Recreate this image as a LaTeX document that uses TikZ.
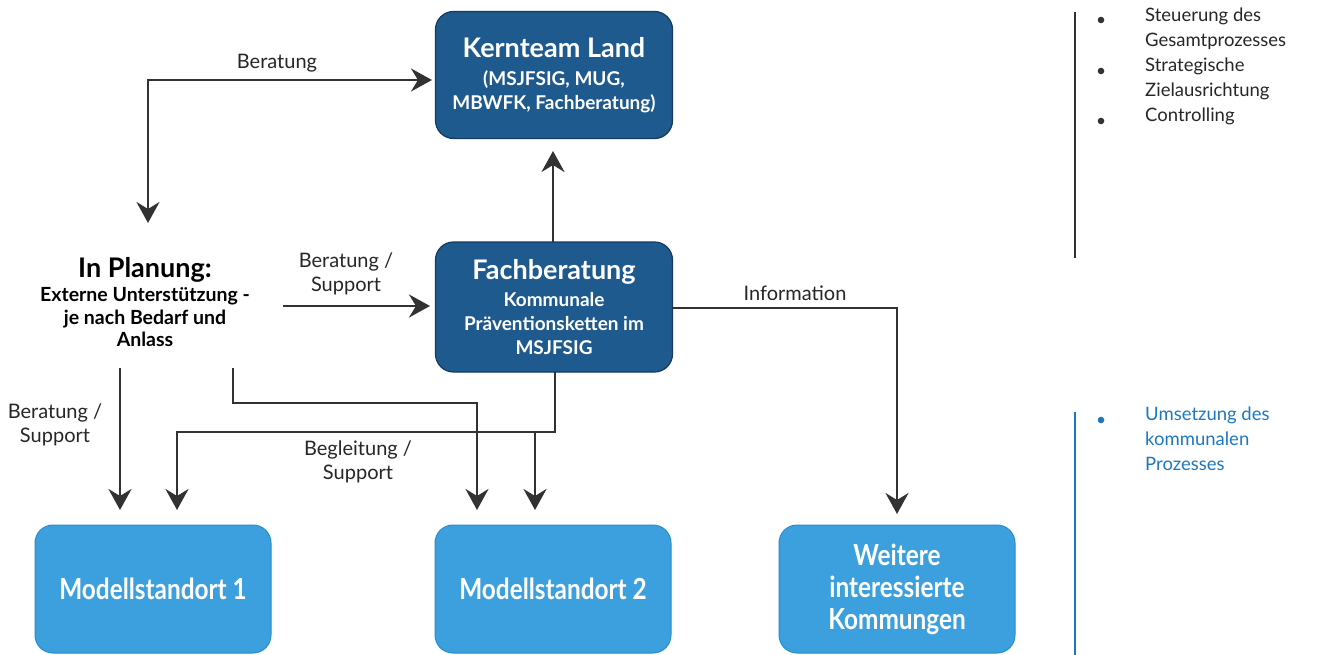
\documentclass[tikz,border=0pt]{standalone}
\usepackage{fontspec}
\setmainfont{Lato}
\newfontfamily\condfont[FakeStretch=0.84]{Lato}
\usetikzlibrary{arrows.meta}
\definecolor{darkbox}{RGB}{31,90,142}
\definecolor{darkedge}{RGB}{20,58,95}
\definecolor{lightbox}{RGB}{60,160,222}
\definecolor{lightedge}{RGB}{40,140,205}
\definecolor{linecol}{RGB}{50,50,50}
\definecolor{bluetext}{RGB}{28,120,192}
\tikzset{
  darknode/.style={draw=darkedge, line width=1.2pt, fill=darkbox, rounded corners=18pt,
    minimum width=237pt, minimum height=127pt, text=white, align=center, inner sep=0pt,
    font=\fontsize{19}{24}\selectfont\bfseries},
  lightnode/.style={draw=lightedge, line width=1pt, fill=lightbox, rounded corners=18pt,
    minimum width=236pt, minimum height=128pt, text=white, align=center, inner sep=0pt,
    font=\condfont\fontsize{29}{32}\selectfont\bfseries},
  conn/.style={draw=linecol, line width=2.8pt},
  arr/.style={conn, -{Stealth[length=21pt,width=23pt,inset=7pt]}},
  darr/.style={conn, {Stealth[length=21pt,width=23pt,inset=7pt]}-{Stealth[length=21pt,width=23pt,inset=7pt]}},
  lab/.style={font=\fontsize{20}{24}\selectfont, text=black!85, align=center, inner sep=0pt},
  sidetext/.style={font=\fontsize{18.5}{25}\selectfont, anchor=north west, align=left, inner sep=0pt},
}
\begin{document}
\begin{tikzpicture}[x=1pt,y=-1pt]
\useasboundingbox (0,0) rectangle (1321,655);
% boxes
\node[darknode] (kern) at (554,75) {{\fontsize{27}{24}\selectfont Kernteam Land}\\[4pt]
  (MSJFSIG, MUG,\\MBWFK, Fachberatung)};
\node[darknode, minimum height=130pt] (fach) at (554,307) {{\fontsize{27}{24}\selectfont Fachberatung}\\[3pt]
  Kommunale\\Präventionsketten im\\MSJFSIG};
\node[align=center, inner sep=2pt, fill=white, font=\fontsize{19.5}{22.5}\selectfont\bfseries] (plan) at (145,302) {{\fontsize{27}{24}\selectfont In Planung:}\\[2pt]
  Externe Unterstützung -\\je nach Bedarf und\\Anlass};
\node[lightnode] (ms1) at (153,589) {Modellstandort 1};
\node[lightnode] (ms2) at (553,589) {Modellstandort 2};
\node[lightnode] (weit) at (897,589) {Weitere\\interessierte\\Kommungen};
% coordinates
\coordinate (b1) at (148,80);
\coordinate (b2) at (148,223);
\coordinate (kw) at (432,80);
\coordinate (ps) at (283,306);
\coordinate (pe) at (430,306);
\coordinate (fu) at (553,242);
\coordinate (ku) at (553,151);
\coordinate (i1) at (672,308);
\coordinate (i2) at (897,308);
\coordinate (i3) at (897,514);
\coordinate (l1) at (120,368);
\coordinate (l2) at (120,510);
\coordinate (p1) at (233,368);
\coordinate (p2) at (233,403);
\coordinate (p3) at (477,403);
\coordinate (p4) at (477,510);
\coordinate (f1) at (555,372);
\coordinate (f2) at (555,432);
\coordinate (f3) at (177,432);
\coordinate (f4) at (177,510);
\coordinate (g1) at (535,432);
\coordinate (g2) at (535,510);
% connectors
\draw[darr] (kw) -- (b1) -- (b2);
\draw[arr] (ps) -- (pe);
\draw[arr] (fu) -- (ku);
\draw[arr] (i1) -- (i2) -- (i3);
\draw[arr] (l1) -- (l2);
\draw[arr] (p1) -- (p2) -- (p3) -- (p4);
\draw[arr] (f1) -- (f2) -- (f3) -- (f4);
\draw[arr] (g1) -- (g2);
% labels
\node[lab] (lberat) at (277,63) {Beratung};
\node[lab] (lbs) at (346,274) {Beratung /\\Support};
\node[lab] (linfo) at (795,293) {Information};
\node[lab] (lbs2) at (55,425) {Beratung /\\Support};
\node[lab] (lbeg) at (358,462) {Begleitung /\\Support};
% right side
\draw[linecol, line width=2.5pt] (1075,12) coordinate (r1) -- (1075,258) coordinate (r2);
\draw[bluetext, line width=2.5pt] (1075,412) coordinate (r3) -- (1075,655) coordinate (r4);
\foreach \yy in {20,71,121} \fill[black!80] (1101,\yy) circle (3.3pt);
\node[sidetext, text=black!85] (st) at (1145,8) {Steuerung des\\Gesamtprozesses\\Strategische\\Zielausrichtung\\Controlling};
\fill[bluetext] (1101,420) circle (3.3pt);
\node[sidetext, text=bluetext] (um) at (1145,407) {Umsetzung des\\kommunalen\\Prozesses};
\end{tikzpicture}
\end{document}
